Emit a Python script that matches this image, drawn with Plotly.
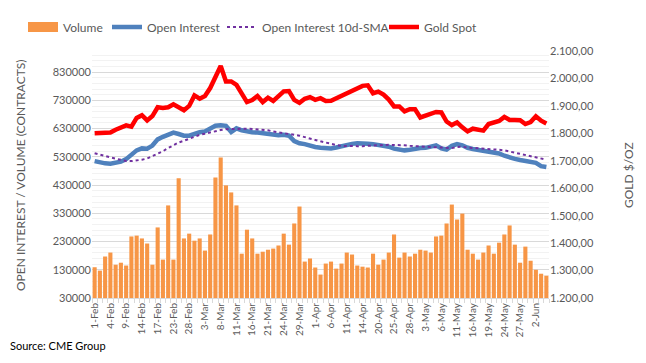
import plotly.graph_objects as go

dates = ["1-Feb","2-Feb","3-Feb","4-Feb","7-Feb","8-Feb","9-Feb","10-Feb","11-Feb","14-Feb",
         "15-Feb","16-Feb","17-Feb","18-Feb","22-Feb","23-Feb","24-Feb","25-Feb","28-Feb","1-Mar",
         "2-Mar","3-Mar","4-Mar","7-Mar","8-Mar","9-Mar","10-Mar","11-Mar","14-Mar","15-Mar",
         "16-Mar","17-Mar","18-Mar","21-Mar","22-Mar","23-Mar","24-Mar","25-Mar","28-Mar","29-Mar",
         "30-Mar","31-Mar","1-Apr","4-Apr","5-Apr","6-Apr","7-Apr","8-Apr","11-Apr","12-Apr",
         "13-Apr","14-Apr","18-Apr","19-Apr","20-Apr","21-Apr","22-Apr","25-Apr","26-Apr","27-Apr",
         "28-Apr","29-Apr","2-May","3-May","4-May","5-May","6-May","9-May","10-May","11-May",
         "12-May","13-May","16-May","17-May","18-May","19-May","20-May","23-May","24-May","25-May",
         "26-May","27-May","31-May","1-Jun","2-Jun","3-Jun","6-Jun"]

volume = [139,127,177,191,148,155,145,248,251,241,
          223,148,280,166,358,166,454,241,258,233,
          241,198,255,457,528,429,404,358,187,272,
          241,187,194,201,205,216,258,219,294,354,
          159,170,138,113,152,159,134,152,191,184,
          145,141,138,187,148,166,191,255,173,191,
          177,187,201,198,191,248,251,294,361,308,
          329,201,187,166,191,216,187,226,255,287,
          219,155,212,162,130,116,109]
volume = [v * 1000 for v in volume]

open_interest = [515,510,507,506,508,513,522,536,553,560,
                 559,570,592,601,607,616,611,605,605,612,
                 617,620,629,640,642,640,618,631,624,619,
                 617,616,614,611,607,607,608,605,586,578,
                 575,568,565,562,560,560,563,568,572,576,
                 578,575,576,575,573,569,566,559,554,553,
                 555,559,561,562,566,571,560,556,569,575,
                 571,562,558,555,552,549,546,542,534,527,
                 523,519,515,509,509,497,494]
open_interest = [v * 1000 for v in open_interest]

oi_sma = [543,539,533,528,523,519,515,515,517,520,
          524,532,540,550,561,572,581,587,594,601,
          608,612,617,621,625,628,629,630,631,630,
          629,628,626,624,620,617,614,612,608,605,
          600,594,590,585,580,575,572,569,568,568,
          568,568,569,572,573,573,573,572,572,571,
          569,568,566,565,563,562,561,560,561,565,
          566,563,562,561,560,559,558,555,553,549,
          546,542,537,534,530,525,520]
oi_sma = [v * 1000 for v in oi_sma]

gold = [1800,1802,1801,1803,1813,1823,1829,1824,1856,1866,
        1847,1863,1895,1892,1895,1906,1897,1884,1900,1938,
        1926,1936,1965,2005,2045,1989,1989,1977,1944,1914,
        1921,1936,1914,1930,1918,1938,1953,1954,1922,1911,
        1926,1932,1922,1928,1918,1919,1928,1938,1948,1956,
        1965,1973,1975,1946,1952,1941,1923,1898,1898,1880,
        1888,1888,1858,1864,1872,1878,1876,1843,1830,1840,
        1822,1807,1817,1812,1810,1834,1839,1845,1860,1849,
        1849,1848,1834,1841,1862,1846,1836]

x = list(range(len(dates)))
tick_idx = list(range(0, len(dates), 3))
tick_text = [dates[i] for i in tick_idx]

grey = "#595959"
font_family = "Lato, Open Sans, sans-serif"

W, H = 646, 363
L, R, T, B = 92, 97, 51, 65
pw, ph = W - L - R, H - T - B

def px_x(p):
    return (p - L) / pw

def px_y(p):
    return (H - B - p) / ph

fig = go.Figure()
fig.add_trace(go.Bar(x=x, y=volume, name="Volume", marker=dict(color="#F79646", line=dict(width=0)),
                     width=0.78, showlegend=False))
fig.add_trace(go.Scatter(x=[None], y=[None], name="Volume", mode="lines",
                         line=dict(color="#F79646", width=10), legend="legend"))
fig.add_trace(go.Scatter(x=x, y=open_interest, name="Open Interest", mode="lines",
                         line=dict(color="#4F81BD", width=4.5), legend="legend2"))
fig.add_trace(go.Scatter(x=x, y=oi_sma, name="Open Interest 10d-SMA", mode="lines",
                         line=dict(color="#7030A0", width=2, dash="dot"), legend="legend3"))
fig.add_trace(go.Scatter(x=x, y=gold, name="Gold Spot", mode="lines", yaxis="y2",
                         line=dict(color="#FF0000", width=4.5), legend="legend4"))

def leg(xpx):
    return dict(orientation="h", x=xpx / W, xanchor="left", xref="container",
                y=1 - 27 / H, yanchor="middle", yref="container",
                font=dict(size=12, color=grey), itemwidth=30,
                bgcolor="rgba(0,0,0,0)")

fig.update_layout(
    width=W, height=H,
    margin=dict(l=L, r=R, t=T, b=B, autoexpand=False),
    paper_bgcolor="white", plot_bgcolor="white",
    separators=",.",
    font=dict(family=font_family, color=grey, size=11),
    showlegend=True,
    legend=leg(23), legend2=leg(107), legend3=leg(222), legend4=leg(384),
    xaxis=dict(range=[-0.5, len(dates) - 0.5], tickmode="array", tickvals=tick_idx, ticktext=tick_text,
               tickangle=-90, tickfont=dict(size=10, color=grey), showgrid=False, zeroline=False,
               showline=True, linecolor="#D9D9D9", linewidth=1, ticks="", automargin=False,
               minor=dict(tick0=-0.5, dtick=1, ticks="outside", ticklen=4, tickcolor="#D9D9D9", showgrid=False)),
    yaxis=dict(range=[30000, 905000], tick0=30000, dtick=100000, tickformat="d",
               showgrid=True, gridcolor="#D9D9D9", gridwidth=1, zeroline=False, automargin=False,
               tickfont=dict(size=11, color=grey),
               minor=dict(tick0=30000, dtick=20000, showgrid=True, gridcolor="#F2F2F2", gridwidth=1)),
    yaxis2=dict(range=[1200, 2100], tick0=1200, dtick=100, tickformat=",.2f", overlaying="y", side="right",
                showgrid=False, zeroline=False, automargin=False, tickfont=dict(size=11, color=grey)),
    annotations=[
        dict(text="Source: CME Group", xref="paper", yref="paper", x=px_x(8), y=px_y(345),
             xanchor="left", yanchor="middle", showarrow=False,
             font=dict(size=11, color="#000000", family=font_family)),
        dict(text="OPEN INTEREST / VOLUME (CONTRACTS)", xref="paper", yref="paper", x=px_x(20), y=px_y(175),
             xanchor="center", yanchor="middle", showarrow=False, textangle=-90,
             font=dict(size=12, color=grey, family=font_family)),
        dict(text="GOLD $/OZ", xref="paper", yref="paper", x=px_x(628), y=px_y(175),
             xanchor="center", yanchor="middle", showarrow=False, textangle=-90,
             font=dict(size=12, color=grey, family=font_family)),
    ],
)

fig.write_html("out.html", config={"displayModeBar": False},
               post_script="document.body.style.margin='0px';document.body.style.padding='0px';")
